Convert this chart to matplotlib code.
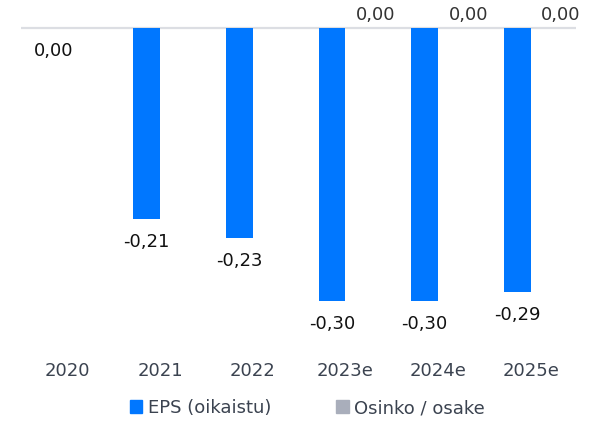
import numpy as np
import matplotlib
matplotlib.use("Agg")
from matplotlib import pyplot as plt
from matplotlib.patches import Patch
from matplotlib.transforms import blended_transform_factory

plt.rcParams['font.family'] = ['DejaVu Sans']

years = ["2020", "2021", "2022", "2023e", "2024e", "2025e"]
eps = [0.00, -0.21, -0.23, -0.30, -0.30, -0.29]
dividend = [np.nan, np.nan, np.nan, 0.00, 0.00, 0.00]

BLUE = "#0077ff"
GRAY = "#a9aebb"
TEXT = "#3b4350"
FS = 13


def fmt(v):
    # finnish style decimal comma
    return ("%.2f" % v).replace(".", ",")


fig = plt.figure(figsize=(5.99, 4.23), dpi=100)
ax = fig.add_axes([0.035, 0.184, 0.927, 0.792])

x = np.arange(len(years))
w = 0.29

ax.axhline(0, color="#dcdee3", lw=1.6, zorder=1)
ax.bar(x - w / 2, eps, w, color=BLUE, zorder=2)
ax.bar(x + w / 2, np.nan_to_num(dividend), w, color=GRAY, zorder=2)

for i, v in enumerate(eps):
    ax.annotate(fmt(v), (x[i] - w / 2, v), xytext=(0, -10), textcoords="offset points",
                ha="center", va="top", fontsize=FS, color="#111111")
for i, v in enumerate(dividend):
    if np.isnan(v):
        continue
    ax.annotate(fmt(v), (x[i] + w / 2, v), xytext=(12, 3), textcoords="offset points",
                ha="center", va="bottom", fontsize=FS, color="#333333")

ax.set_xlim(-0.5, 5.49)
ax.set_ylim(-0.348, 0.0198)
ax.set_yticks([])
ax.set_xticks([])
for s in ax.spines.values():
    s.set_visible(False)

# category labels below the plot area
trans = blended_transform_factory(ax.transData, fig.transFigure)
for i, y in enumerate(years):
    ax.text(x[i], 1 - 371 / 423, y, transform=trans, ha="center", va="center",
            fontsize=FS, color=TEXT)

handles = [Patch(color=BLUE, label="EPS (oikaistu)"),
           Patch(color=GRAY, label="Osinko / osake")]
fig.legend(handles=handles, loc="center", bbox_to_anchor=(0.513, 1 - 408 / 423),
           ncol=2, frameon=False, fontsize=FS, handlelength=0.7, handleheight=0.7,
           handletextpad=0.3, columnspacing=3.6, labelcolor=TEXT)

fig.savefig("out.png", dpi=100)
